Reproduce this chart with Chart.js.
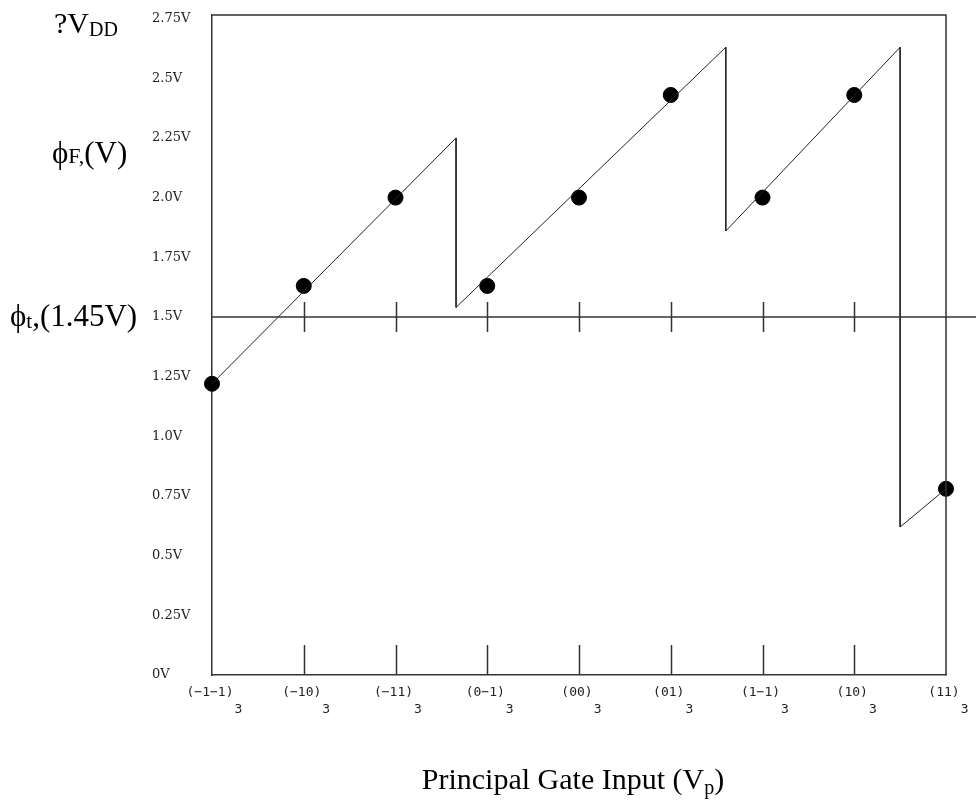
<!DOCTYPE html>
<html>
<head>
<meta charset="utf-8">
<script src="https://cdn.jsdelivr.net/npm/chart.js@4.4.1/dist/chart.umd.min.js"></script>
<style>
  html, body { margin: 0; padding: 0; background: #fff; }
  #wrap { width: 976px; height: 803px; position: relative; }
</style>
</head>
<body>
<div id="wrap"><canvas id="chart"></canvas></div>
<script>
// x positions are the ternary input codes, 0..8
const xLabels = ["(\u22121\u22121)", "(\u221210)", "(\u221211)", "(0\u22121)", "(00)", "(01)", "(1\u22121)", "(10)", "(11)"];
const xSub = "3";
const yTickVals = [0, 0.25, 0.5, 0.75, 1.0, 1.25, 1.5, 1.75, 2.0, 2.25, 2.5, 2.75];
const yTickText = ["0V", "0.25V", "0.5V", "0.75V", "1.0V", "1.25V", "1.5V", "1.75V", "2.0V", "2.25V", "2.5V", "2.75V"];

// measured floating-gate voltage at each input code
const dotX = [0, 1, 2, 3, 4, 5, 6, 7, 8];
const dotY = [1.22, 1.63, 2.0, 1.63, 2.0, 2.43, 2.0, 2.43, 0.78];

// sawtooth transfer curve (corner points)
const sawX = [0, 2.66, 2.66, 5.6, 5.6, 7.5, 7.5, 8];
const sawY = [1.22, 2.25, 1.54, 2.63, 1.86, 2.63, 0.62, 0.78];

const threshold = 1.5;

const axisColor = "#333";

function drawRuns(ctx, x, y, runs, align) {
  let total = 0;
  runs.forEach(r => {
    ctx.font = r.size + "px 'Liberation Serif', 'Times New Roman', serif";
    r.w = ctx.measureText(r.t).width;
    total += r.w;
  });
  let cx = align === "center" ? x - total / 2 : x;
  ctx.textAlign = "left";
  ctx.textBaseline = "alphabetic";
  runs.forEach(r => {
    ctx.font = r.size + "px 'Liberation Serif', 'Times New Roman', serif";
    ctx.fillText(r.t, cx, y + (r.dy || 0));
    cx += r.w;
  });
}

const decor = {
  id: "decor",
  afterDraw(chart) {
    const ctx = chart.ctx;
    const xs = chart.scales.x, ys = chart.scales.y;
    const a = chart.chartArea;
    ctx.save();
    ctx.strokeStyle = axisColor;
    ctx.lineWidth = 1.5;
    // box top and right
    ctx.beginPath();
    ctx.moveTo(a.left, a.top);
    ctx.lineTo(a.right, a.top);
    ctx.lineTo(a.right, a.bottom);
    ctx.stroke();
    // threshold line across to the page edge
    const ty = ys.getPixelForValue(threshold);
    ctx.beginPath();
    ctx.moveTo(a.left, ty);
    ctx.lineTo(chart.width, ty);
    ctx.stroke();
    // ticks on threshold line and bottom axis
    for (let i = 1; i < xLabels.length - 1; i++) {
      const px = Math.round(xs.getPixelForValue(i)) + 0.5;
      ctx.beginPath();
      ctx.moveTo(px, ty - 15);
      ctx.lineTo(px, ty + 15);
      ctx.moveTo(px, a.bottom - 30);
      ctx.lineTo(px, a.bottom);
      ctx.stroke();
    }
    // x tick labels with subscript 3
    ctx.fillStyle = "#222";
    ctx.textBaseline = "middle";
    xLabels.forEach((lab, i) => {
      const px = xs.getPixelForValue(i);
      ctx.font = "13px 'DejaVu Sans Mono', monospace";
      ctx.textAlign = "center";
      ctx.fillText(lab, px - 2, a.bottom + 18);
      const w = ctx.measureText(lab).width;
      ctx.textAlign = "left";
      ctx.fillText(xSub, px - 2 + w / 2 + 1, a.bottom + 35);
    });
    // left-hand annotations
    ctx.fillStyle = "#000";
    drawRuns(ctx, 54, ys.getPixelForValue(2.75) + 14, [
      { t: "?V", size: 30 }, { t: "DD", size: 20, dy: 3 }
    ]);
    drawRuns(ctx, 52, 163, [
      { t: "\u03d5", size: 31 }, { t: "F,", size: 22 }, { t: "(V)", size: 31 }
    ]);
    drawRuns(ctx, 10, ty + 9, [
      { t: "\u03d5", size: 31 }, { t: "t", size: 21, dy: 2 }, { t: ",(1.45V)", size: 31 }
    ]);
    // x axis title
    drawRuns(ctx, 573, 789, [
      { t: "Principal Gate Input (V", size: 30 }, { t: "p", size: 20, dy: 5 }, { t: ")", size: 30 }
    ], "center");
    ctx.restore();
  }
};

new Chart(document.getElementById("chart"), {
  type: "scatter",
  data: {
    datasets: [
      {
        data: sawX.map((x, i) => ({ x: x, y: sawY[i] })),
        showLine: true,
        borderColor: "#222",
        borderWidth: 1,
        pointRadius: 0,
        tension: 0,
        clip: false
      },
      {
        data: dotX.map((x, i) => ({ x: x, y: dotY[i] })),
        pointRadius: 7.5,
        pointBackgroundColor: "#000",
        pointBorderColor: "#000",
        clip: false
      }
    ]
  },
  options: {
    responsive: true,
    maintainAspectRatio: false,
    animation: false,
    layout: { padding: { left: 152, right: 30, top: 15, bottom: 128 } },
    plugins: { legend: { display: false }, tooltip: { enabled: false } },
    scales: {
      x: {
        type: "linear",
        min: 0,
        max: 8,
        grid: { display: false },
        border: { display: true, color: axisColor, width: 1.5 },
        ticks: { display: false },
        afterFit: s => { s.height = 0; }
      },
      y: {
        type: "linear",
        min: 0,
        max: 2.765,
        grid: { display: false },
        border: { display: true, color: axisColor, width: 1.5 },
        afterBuildTicks: s => { s.ticks = yTickVals.map(v => ({ value: v })); },
        ticks: {
          crossAlign: "far",
          color: "#222",
          font: { family: "'DejaVu Serif', serif", size: 13 },
          callback: (v, i) => yTickText[i]
        },
        afterFit: s => { s.width = 60; }
      }
    }
  },
  plugins: [decor]
});
</script>
</body>
</html>
